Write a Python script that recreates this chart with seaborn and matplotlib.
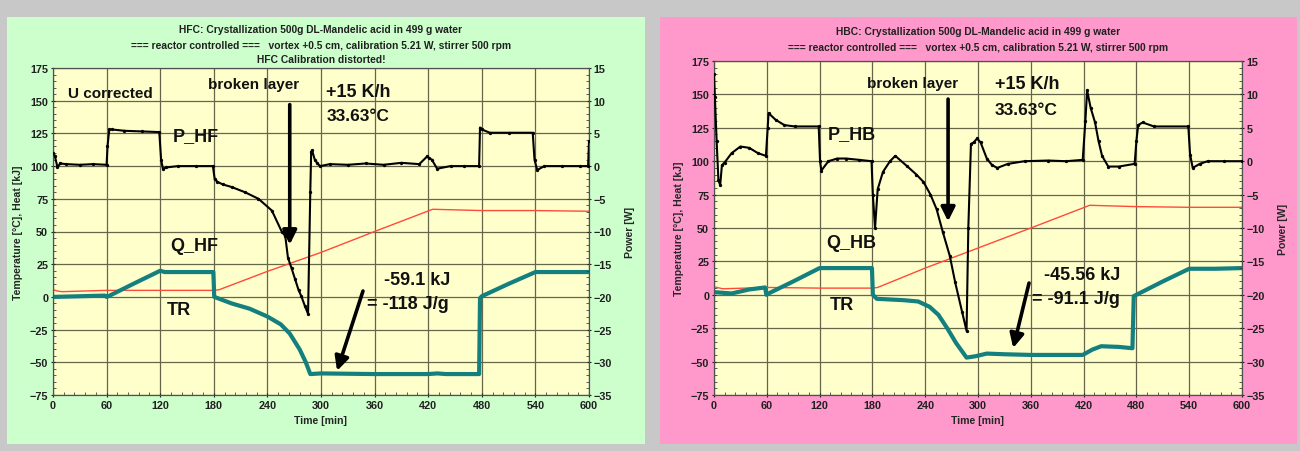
import numpy as np
import pandas as pd
import matplotlib
matplotlib.use("Agg")
import matplotlib.pyplot as plt
from matplotlib.patches import Rectangle
from matplotlib.ticker import MultipleLocator
from matplotlib import font_manager
import seaborn as sns

sns.set_style("ticks")
_names = {f.name for f in font_manager.fontManager.ttflist}
NARROW = "Liberation Sans Narrow" if "Liberation Sans Narrow" in _names else "Liberation Sans"
plt.rcParams["font.family"] = ["Liberation Sans", "DejaVu Sans"]
plt.rcParams["font.weight"] = "bold"
plt.rcParams["axes.labelweight"] = "bold"

# ---------------- data: HFC (left) ----------------
hfc_title = ["HFC: Crystallization 500g DL-Mandelic acid in 499 g water",
             "=== reactor controlled ===   vortex +0.5 cm, calibration 5.21 W, stirrer 500 rpm",
             "HFC Calibration distorted!"]
hfc_p_t = [0, 2, 5, 8, 15, 30, 45, 60, 61, 63, 66, 80, 100, 119, 121, 123, 127, 140, 160, 179,
           181, 184, 190, 200, 215, 230, 245, 256, 260, 263, 267, 271, 275, 278, 282, 285.5,
           288, 289, 290, 293, 296, 299, 310, 330, 350, 370, 390, 410, 419, 421, 424, 430,
           445, 460, 477, 478, 480, 489, 510, 537, 539, 542, 550, 570, 590, 599, 600]
hfc_p_w = [2.0, 1.6, -0.2, 0.4, 0.3, 0.2, 0.3, 0.2, 3.0, 5.6, 5.6, 5.4, 5.3, 5.2, 1.0, -0.4, -0.2, 0.0, 0.0, 0.0,
           -2.0, -2.4, -2.8, -3.2, -4.0, -5.0, -6.8, -10.0, -10.7, -14.0, -15.6, -17.3, -19.0, -19.9, -21.4, -22.6,
           -4.0, 2.2, 2.4, 1.0, 0.4, 0.0, 0.3, 0.2, 0.4, 0.2, 0.5, 0.3, 1.5, 1.2, 1.0, -0.4,
           0.0, 0.0, 0.0, 5.9, 5.6, 5.1, 5.1, 5.1, 1.0, -0.6, 0.0, 0.0, 0.0, 0.0, 3.8]
hfc_q_t = [0, 30, 58, 60, 62, 90, 120, 125, 150, 179.5, 180.5, 200, 220, 240, 255, 265, 276, 283,
           288, 300, 360, 420, 430, 440, 477, 478, 480, 510, 540, 570, 600]
hfc_q_kj = [0, 0.5, 1, 0, 0.5, 10, 20, 19, 19, 19, 0, -5, -9, -15, -21, -28, -40, -50,
            -59, -58.5, -59, -59, -58.5, -59, -59, -1, 0.5, 10, 19, 19, 19]
hfc_tr_t = [0, 5, 10, 60, 120, 180, 186, 240, 300, 360, 425, 480, 540, 600]
hfc_tr_c = [5.5, 4.5, 4.0, 5.0, 5.0, 5.0, 5.5, 19.5, 34, 50, 67, 66, 66, 65.5]

# ---------------- data: HBC (right) ----------------
hbc_title = ["HBC: Crystallization 500g DL-Mandelic acid in 499 g water",
             "=== reactor controlled ===   vortex +0.5 cm, calibration 5.21 W, stirrer 500 rpm"]
hbc_p_t = [0, 1, 3, 5, 7, 9, 12, 20, 30, 40, 50, 59, 61, 62, 70, 80, 92, 119, 120.5, 122, 130, 140,
           150, 165, 179, 180.5, 183, 186, 192, 200, 206, 219, 230, 238, 246, 253, 260, 268, 274,
           282, 287, 289, 292, 295, 299, 303, 310, 316, 322, 334, 353, 380, 400, 419, 422, 424,
           428, 433, 437, 441, 448, 460, 478, 480, 482, 487, 500, 539, 541, 544, 552, 561, 580, 600]
hbc_p_w = [13.0, 9.6, 3.0, -2.8, -3.6, -0.6, -0.2, 1.2, 2.2, 2.0, 1.2, 0.8, 5.0, 7.2, 6.2, 5.4, 5.2, 5.2, 0.0, -1.4, 0.0, 0.4,
           0.4, 0.2, 0.0, -5.0, -10.0, -4.2, -1.6, 0.0, 0.8, -0.7, -2.0, -3.1, -5.0, -7.2, -10.6, -14.2, -18.1,
           -22.6, -25.4, -10.0, 2.6, 2.8, 3.4, 2.8, 0.4, -0.6, -1.0, -0.4, 0.0, 0.1, 0.0, 0.2, 6.0, 10.6,
           8.0, 5.8, 3.0, 0.8, -0.8, -0.8, -0.4, 3.0, 5.4, 5.8, 5.2, 5.2, 1.0, -1.0, -0.4, 0.0, 0.0, 0.0]
hbc_q_t = [0, 20, 40, 58, 59.5, 62, 90, 120, 150, 179.5, 180.5, 185, 200, 215, 232, 245, 255, 265, 275,
           287, 297, 310, 330, 360, 400, 419, 430, 440, 460, 475.5, 477, 480, 510, 540, 570, 600]
hbc_q_kj = [2, 1, 4, 5.5, 0, 1, 10, 20, 20, 20, 0, -3, -3.5, -4, -5, -9, -15, -25, -36,
            -47, -46, -44, -44.5, -45, -45, -45, -41, -38.5, -39, -40, -1, 0, 10, 19.5, 19.5, 20]
hbc_tr_t = [0, 10, 60, 120, 180, 186, 240, 300, 360, 427, 480, 540, 600]
hbc_tr_c = [6.0, 4.5, 5.5, 5.0, 5.0, 5.5, 20, 35, 50, 67, 66, 65.5, 65.5]

x_ticks = [0, 60, 120, 180, 240, 300, 360, 420, 480, 540, 600]

# ---------------- style ----------------
BG = "#c8c8c8"
PLOT_BG = "#ffffcc"
GRID = "#66664a"
Q_COL = "#13807f"
TR_COL = "#ff4a3a"

fig = plt.figure(figsize=(13, 4.52), dpi=100, facecolor=BG)


def draw_panel(rect_bg, bg_col, ax_rect, titles, title_y, p_t, p_w, q_t, q_kj, tr_t, tr_c,
               labels, ann):
    fig.add_artist(Rectangle((rect_bg[0], rect_bg[1]), rect_bg[2], rect_bg[3],
                             transform=fig.transFigure, facecolor=bg_col,
                             edgecolor="none", zorder=-10))
    cx = ax_rect[0] + ax_rect[2] / 2
    for line, ty in zip(titles, title_y):
        fig.text(cx, ty, line, ha="center", va="center", fontsize=7.4,
                 family=[NARROW, "DejaVu Sans"], color="#202020", fontweight="bold")

    ax = fig.add_axes(ax_rect)
    ax.set_facecolor(PLOT_BG)
    ax2 = ax.twinx()

    dq = pd.DataFrame({"t": q_t, "v": q_kj})
    dtr = pd.DataFrame({"t": tr_t, "v": tr_c})
    dp = pd.DataFrame({"t": p_t, "v": p_w})
    sns.lineplot(data=dtr, x="t", y="v", ax=ax, estimator=None, sort=False,
                 color=TR_COL, lw=1.0, zorder=3)
    sns.lineplot(data=dq, x="t", y="v", ax=ax, estimator=None, sort=False,
                 color=Q_COL, lw=3.0, zorder=4)
    sns.lineplot(data=dp, x="t", y="v", ax=ax2, estimator=None, sort=False,
                 color="black", lw=1.5, marker="o", markersize=2.4, markeredgewidth=0,
                 zorder=5)

    ax.set_xlim(0, 600)
    ax.set_ylim(-75, 175)
    ax2.set_ylim(-35, 15)
    ax.set_xticks(x_ticks)
    ax.xaxis.set_minor_locator(MultipleLocator(12))
    ax.yaxis.set_major_locator(MultipleLocator(25))
    ax.yaxis.set_minor_locator(MultipleLocator(5))
    ax2.yaxis.set_major_locator(MultipleLocator(5))
    ax2.yaxis.set_minor_locator(MultipleLocator(1))
    ax.grid(True, which="major", color=GRID, lw=0.9)
    ax.set_axisbelow(True)

    for a in (ax, ax2):
        a.tick_params(which="major", length=3, width=0.8, direction="inout",
                      labelsize=7.8, colors="#202020", pad=2)
        a.tick_params(which="minor", length=2, width=0.6, direction="in", colors="#404040")
        for s in a.spines.values():
            s.set_color("#505050")
            s.set_linewidth(0.8)
        for lab in a.get_xticklabels() + a.get_yticklabels():
            lab.set_fontweight("bold")
            lab.set_family([NARROW, "DejaVu Sans"])

    ax.set_xlabel("Time [min]", fontsize=7.6, fontweight="bold", labelpad=4,
                  family=[NARROW, "DejaVu Sans"])
    ax.set_ylabel("Temperature [°C], Heat [kJ]", fontsize=7.6, fontweight="bold",
                  labelpad=5, family=[NARROW, "DejaVu Sans"])
    ax2.set_ylabel("Power [W]", fontsize=7.6, fontweight="bold", rotation=90,
                   labelpad=9, family=[NARROW, "DejaVu Sans"])

    for (txt, x, y, fs) in labels:
        ax.text(x, y, txt, ha="left", va="center", fontsize=fs, fontweight="bold",
                color="#111111", zorder=6)
    for (x0, y0, x1, y1) in ann:
        ax.annotate("", xy=(x1, y1), xytext=(x0, y0),
                    arrowprops=dict(arrowstyle="-|>", color="black", lw=2.6,
                                    mutation_scale=21, shrinkA=0, shrinkB=0),
                    zorder=7)
    return ax


draw_panel((7 / 1300, 1 - 445 / 452, 638 / 1300, 427 / 452), "#ccffcc",
           [53 / 1300, 1 - 396 / 452, 536 / 1300, 327 / 452],
           hfc_title, [1 - 30 / 452, 1 - 46 / 452, 1 - 60 / 452],
           hfc_p_t, hfc_p_w, hfc_q_t, hfc_q_kj, hfc_tr_t, hfc_tr_c,
           [("U corrected", 17, 156, 11), ("broken layer", 173, 163, 11),
            ("+15 K/h", 306, 157, 13), ("33.63°C", 306, 139, 12.5),
            ("P_HF", 134, 123, 13), ("Q_HF", 131, 39, 13), ("TR", 127, -10, 13),
            ("-59.1 kJ", 371, 13, 13), ("= -118 J/g", 352, -5, 13)],
           [(265, 147, 265, 40), (347, 4.5, 318, -56.5)])

draw_panel((660 / 1300, 1 - 445 / 452, 637 / 1300, 427 / 452), "#ff99cc",
           [714 / 1300, 1 - 396 / 452, 528 / 1300, 334 / 452],
           hbc_title, [1 - 32 / 452, 1 - 48 / 452],
           hbc_p_t, hbc_p_w, hbc_q_t, hbc_q_kj, hbc_tr_t, hbc_tr_c,
           [("broken layer", 174, 158.5, 11),
            ("+15 K/h", 319, 158, 13), ("33.63°C", 319, 139, 12.5),
            ("P_HB", 129, 121, 13), ("Q_HB", 127, 39, 13), ("TR", 132, -7, 13),
            ("-45.56 kJ", 375, 15, 13), ("= -91.1 J/g", 361, -2.5, 13)],
           [(266, 146.5, 266, 55), (358, 8.8, 340, -39.8)])

fig.savefig("out.png", dpi=100, facecolor=BG)
